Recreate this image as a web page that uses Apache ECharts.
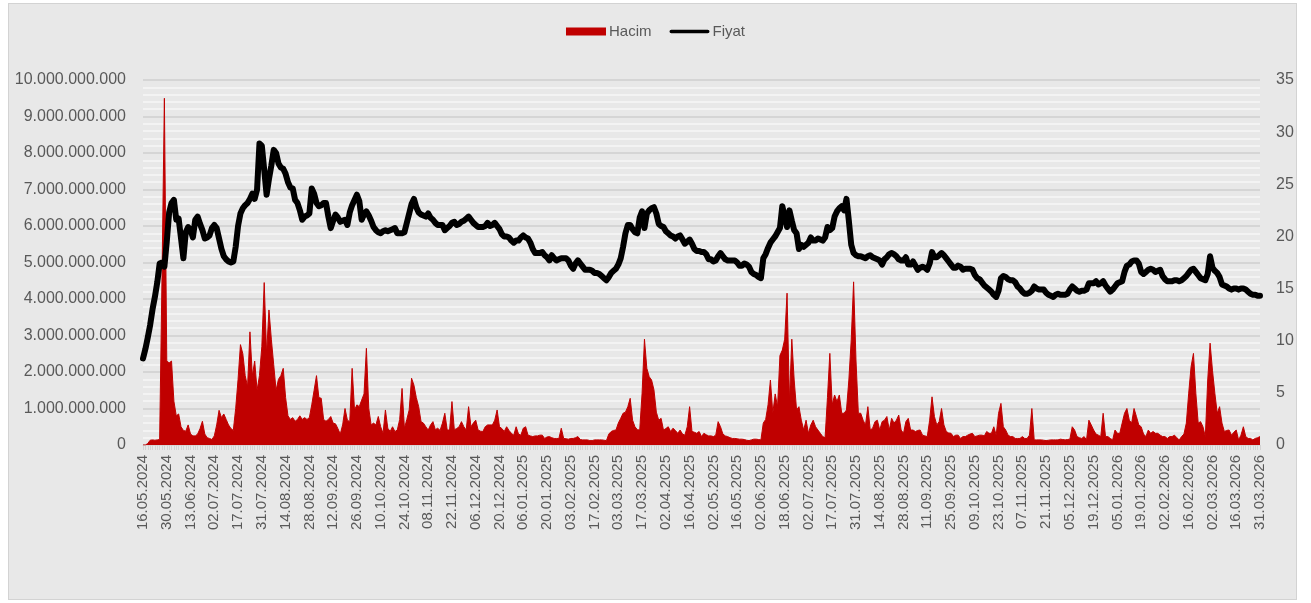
<!DOCTYPE html>
<html lang="tr">

<head>
    <meta charset="UTF-8">
    <meta name="viewport" content="width=device-width, initial-scale=1.0">
    <title>Hacim / Fiyat</title>
    <style>
        html,
        body {
            margin: 0;
            padding: 0;
            background: #ffffff;
        }

        #frame {
            position: absolute;
            left: 8px;
            top: 3px;
            width: 1287px;
            height: 595px;
            background: #e8e8e8;
            border: 1px solid #d3d3d3;
        }

        #show {
            position: absolute;
            left: 0;
            top: 0;
            width: 1311px;
            height: 603px;
        }
    </style>
</head>

<body>
    <div id="frame"></div>
    <div id="show"></div>

    <script src="https://cdn.jsdelivr.net/npm/echarts@6.0.0/dist/echarts.min.js"></script>
    <script>
        // eksen etiketleri (her 10 islem gununde bir)
        var tarihEtiketleri = [
            '16.05.2024', '30.05.2024', '13.06.2024', '02.07.2024', '17.07.2024', '31.07.2024',
            '14.08.2024', '28.08.2024', '12.09.2024', '26.09.2024', '10.10.2024', '24.10.2024',
            '08.11.2024', '22.11.2024', '06.12.2024', '20.12.2024', '06.01.2025', '20.01.2025',
            '03.02.2025', '17.02.2025', '03.03.2025', '17.03.2025', '02.04.2025', '16.04.2025',
            '02.05.2025', '16.05.2025', '02.06.2025', '18.06.2025', '02.07.2025', '17.07.2025',
            '31.07.2025', '14.08.2025', '28.08.2025', '11.09.2025', '25.09.2025', '09.10.2025',
            '23.10.2025', '07.11.2025', '21.11.2025', '05.12.2025', '19.12.2025', '05.01.2026',
            '19.01.2026', '02.02.2026', '16.02.2026', '02.03.2026', '16.03.2026', '31.03.2026'
        ];

        // islem hacmi, milyon TL
        var hacimMilyon = [
            0, 0, 40, 130, 140, 130, 140, 150, 4600, 9500,
            2300, 2250, 2300, 1200, 800, 850, 500, 400, 380, 550,
            300, 250, 250, 300, 450, 650, 300, 200, 180, 150,
            250, 550, 950, 750, 850, 700, 550, 450, 400, 1000,
            1800, 2750, 2500, 1900, 1600, 3100, 1900, 2300, 1500, 1900,
            2700, 4450, 2500, 3700, 2900, 2200, 1500, 1800, 1900, 2100,
            1300, 800, 700, 750, 650, 700, 800, 700, 750, 700,
            750, 1100, 1500, 1900, 1300, 1280, 700, 650, 700, 780,
            600, 580, 450, 300, 550, 1000, 680, 640, 2100, 960,
            1100, 1050, 1230, 1400, 2650, 1000, 550, 600, 550, 780,
            500, 320, 960, 460, 370, 500, 370, 410, 700, 1550,
            460, 700, 960, 1830, 1640, 1300, 1050, 640, 600, 500,
            410, 550, 640, 420, 460, 400, 600, 870, 410, 410,
            1190, 420, 450, 500, 640, 500, 410, 1050, 500, 600,
            680, 410, 380, 370, 500, 550, 550, 550, 680, 960,
            500, 450, 370, 500, 400, 320, 270, 500, 300, 270,
            460, 500, 270, 250, 230, 250, 250, 270, 270, 180,
            220, 230, 200, 180, 180, 180, 460, 180, 170, 160,
            180, 180, 200, 230, 150, 140, 140, 140, 120, 120,
            140, 140, 140, 140, 130, 120, 300, 370, 400, 410,
            600, 730, 870, 900, 1050, 1280, 680, 500, 420, 410,
            1420, 2900, 2100, 1870, 1780, 1510, 900, 680, 730, 410,
            450, 500, 370, 460, 400, 320, 410, 300, 270, 500,
            1050, 370, 350, 320, 370, 230, 320, 280, 250, 250,
            230, 270, 640, 500, 300, 250, 230, 200, 180, 180,
            170, 160, 160, 150, 130, 120, 140, 160, 160, 150,
            140, 600, 700, 1100, 1780, 870, 1400, 1050, 2450, 2600,
            2900, 4160, 1200, 2900, 1780, 960, 1050, 680, 410, 680,
            320, 550, 680, 500, 410, 320, 230, 200, 1300, 2510,
            1100, 1370, 1190, 1370, 870, 870, 960, 1780, 2880, 4470,
            2330, 870, 870, 680, 550, 1050, 410, 460, 640, 680,
            410, 640, 680, 780, 410, 730, 600, 680, 820, 410,
            320, 640, 730, 410, 410, 370, 400, 410, 270, 250,
            230, 680, 1320, 780, 550, 640, 1000, 550, 370, 330,
            320, 230, 270, 270, 180, 230, 230, 270, 300, 320,
            230, 250, 270, 270, 250, 370, 320, 320, 500, 270,
            870, 1140, 500, 410, 270, 230, 230, 180, 180, 180,
            230, 180, 180, 270, 1000, 140, 140, 140, 140, 130,
            120, 130, 140, 140, 140, 140, 160, 150, 140, 150,
            160, 500, 410, 230, 200, 180, 230, 140, 680, 550,
            410, 300, 270, 230, 870, 230, 230, 180, 140, 410,
            320, 320, 600, 870, 1000, 680, 600, 1000, 780, 550,
            500, 300, 230, 410, 320, 370, 320, 320, 270, 230,
            230, 180, 230, 230, 270, 200, 140, 230, 300, 600,
            1420, 2150, 2510, 1420, 600, 640, 500, 230, 1780, 2790,
            2050, 1420, 870, 1050, 600, 370, 400, 410, 270, 350,
            410, 140, 270, 500, 230, 180, 180, 140, 180, 200,
            230
        ];

        // kapanis fiyati, TL
        var fiyat = [
            8.3, 9.2, 10.3, 11.5, 13.0, 14.2, 15.6, 17.4, 17.5, 17.1,
            19.5, 22.3, 23.2, 23.5, 21.6, 21.7, 19.8, 17.9, 20.4, 20.9,
            20.6, 19.9, 21.6, 21.9, 21.2, 20.6, 19.8, 19.9, 20.1, 20.8,
            21.1, 20.8, 19.8, 18.8, 18.1, 17.8, 17.6, 17.5, 17.6, 19.0,
            21.0, 22.2, 22.7, 23.0, 23.2, 23.6, 24.1, 23.6, 24.5, 28.9,
            28.7, 26.4, 24.0, 25.5, 26.8, 28.3, 28.0, 27.0, 26.6, 26.5,
            26.0, 25.2, 24.7, 24.6, 23.5, 23.2, 22.5, 21.6, 21.9, 22.0,
            22.2, 24.6, 24.1, 23.2, 22.9, 23.0, 23.2, 23.2, 21.9, 20.8,
            21.5, 22.1, 21.8, 21.4, 21.5, 21.6, 21.1, 22.3, 23.0, 23.5,
            24.0, 23.4, 21.6, 22.1, 22.4, 22.0, 21.5, 20.9, 20.6, 20.4,
            20.3, 20.5, 20.6, 20.5, 20.6, 20.7, 20.8, 20.3, 20.3, 20.3,
            20.4, 21.3, 22.2, 23.1, 23.6, 22.8, 22.3, 22.1, 22.0, 21.9,
            22.2, 21.8, 21.6, 21.3, 21.1, 21.1, 21.1, 20.6, 20.8, 21.0,
            21.3, 21.4, 21.1, 21.2, 21.4, 21.5, 21.7, 21.9, 21.6, 21.3,
            21.1, 20.9, 20.9, 20.9, 21.0, 21.3, 21.0, 21.1, 21.3, 21.0,
            20.7, 20.2, 20.0, 20.0, 19.9, 19.6, 19.4, 19.6, 19.6, 19.9,
            20.1, 19.9, 19.8, 19.4, 18.8, 18.4, 18.4, 18.4, 18.5, 18.2,
            18.0, 17.7, 18.2, 17.9, 17.7, 17.8, 17.9, 17.9, 17.9, 17.7,
            17.2, 16.9, 17.4, 17.7, 17.4, 17.1, 16.8, 16.8, 16.8, 16.7,
            16.5, 16.5, 16.4, 16.2, 16.0, 15.8, 16.1, 16.5, 16.7, 16.9,
            17.3, 17.9, 19.0, 20.3, 21.1, 21.1, 20.7, 20.4, 20.3, 21.8,
            22.4, 20.8, 22.2, 22.5, 22.7, 22.8, 22.2, 21.2, 21.0, 20.9,
            20.5, 20.3, 20.1, 20.0, 19.8, 20.0, 20.1, 19.7, 19.3, 19.5,
            19.7, 19.3, 18.8, 18.6, 18.6, 18.5, 18.5, 18.3, 17.8, 17.8,
            17.6, 17.7, 18.1, 18.4, 18.1, 17.8, 17.7, 17.7, 17.7, 17.7,
            17.5, 17.2, 17.2, 17.4, 17.3, 17.1, 16.6, 16.4, 16.3, 16.1,
            16.0, 17.9, 18.3, 18.9, 19.4, 19.7, 20.0, 20.4, 20.8, 22.9,
            21.9, 20.9, 22.5, 21.5, 20.6, 20.3, 18.8, 19.2, 19.0, 19.2,
            19.4, 19.9, 19.6, 19.6, 19.8, 19.7, 19.6, 19.9, 20.9, 20.6,
            20.8, 21.9, 22.4, 22.7, 22.9, 22.5, 23.6, 21.5, 19.2, 18.4,
            18.2, 18.1, 18.1, 18.0, 17.9, 18.1, 18.2, 18.0, 17.9, 17.8,
            17.7, 17.3, 17.8, 18.0, 18.3, 18.4, 18.3, 18.1, 17.8, 17.7,
            17.7, 18.0, 17.3, 17.3, 17.6, 17.2, 16.8, 17.0, 17.1, 17.0,
            16.8, 17.4, 18.5, 18.0, 18.0, 18.2, 18.4, 18.2, 17.9, 17.6,
            17.3, 17.0, 17.0, 17.2, 17.1, 16.8, 16.9, 16.9, 16.9, 16.8,
            16.3, 16.0, 15.9, 15.6, 15.3, 15.1, 14.9, 14.7, 14.4, 14.2,
            14.8, 16.0, 16.2, 16.1, 15.9, 15.8, 15.8, 15.6, 15.2, 15.0,
            14.7, 14.5, 14.5, 14.6, 14.8, 15.2, 15.0, 14.9, 14.9, 14.9,
            14.6, 14.4, 14.3, 14.2, 14.4, 14.5, 14.4, 14.4, 14.4, 14.5,
            14.9, 15.2, 15.0, 14.8, 14.7, 14.8, 14.8, 14.9, 15.5, 15.5,
            15.5, 15.7, 15.4, 15.5, 15.7, 15.3, 15.0, 14.7, 14.9, 15.2,
            15.5, 15.6, 15.7, 16.6, 17.2, 17.3, 17.6, 17.7, 17.7, 17.4,
            16.6, 16.4, 16.6, 16.8, 16.9, 16.8, 16.6, 16.7, 16.8, 16.2,
            15.9, 15.7, 15.7, 15.7, 15.8, 15.8, 15.7, 15.8, 16.0, 16.2,
            16.5, 16.8, 16.9, 16.6, 16.3, 16.0, 15.9, 15.8, 16.4, 18.1,
            17.0, 16.7, 16.5, 16.1, 15.4, 15.3, 15.2, 15.0, 14.9, 15.0,
            15.0, 14.9, 15.0, 15.0, 14.9, 14.7, 14.5, 14.4, 14.4, 14.3,
            14.3
        ];

        var gunler = fiyat.map(function (v, i) { return String(i); });
        var hacim = hacimMilyon.map(function (v) { return v * 1e6; });

        function noktali(v) {
            return String(Math.round(v)).replace(/\B(?=(\d{3})+(?!\d))/g, '.');
        }

        var myChart = echarts.init(document.querySelector('#show'));

        myChart.setOption({
            animation: false,
            textStyle: {
                fontFamily: 'Liberation Sans, Arial, sans-serif'
            },
            legend: {
                top: 19,
                left: 'center',
                itemWidth: 40,
                itemHeight: 8,
                itemGap: 18,
                textStyle: { color: '#595959', fontSize: 15, padding: [0, 0, 0, -2] },
                data: [
                    { name: 'Hacim', icon: 'rect', itemStyle: { color: '#c00000', borderWidth: 0 } },
                    { name: 'Fiyat', icon: 'path://M2,0H42A2,2,0,0,1,42,4H2A2,2,0,0,1,2,0Z' }
                ]
            },
            grid: { left: 143, right: 51, top: 80, bottom: 158 },
            xAxis: {
                type: 'category',
                boundaryGap: false,
                data: gunler,
                axisLine: { lineStyle: { color: '#d9d9d9' } },
                axisTick: {
                    show: true,
                    interval: 0,
                    length: 5,
                    lineStyle: { color: '#d3d3d3' }
                },
                axisLabel: {
                    interval: function (i) { return i % 10 === 0; },
                    formatter: function (v, i) { return tarihEtiketleri[i / 10]; },
                    rotate: 90,
                    margin: 10,
                    fontSize: 15,
                    color: '#595959'
                },
                splitLine: { show: false }
            },
            yAxis: [
                {
                    type: 'value',
                    min: 0,
                    max: 10000000000,
                    interval: 1000000000,
                    axisLine: { show: false },
                    axisTick: { show: false },
                    axisLabel: {
                        formatter: noktali,
                        fontSize: 16,
                        margin: 17,
                        color: '#595959'
                    },
                    splitLine: { lineStyle: { color: '#d5d5d5', width: 2 } },
                    minorTick: { show: false, splitNumber: 5 },
                    minorSplitLine: { show: true, lineStyle: { color: '#f3f3f3', width: 2 } }
                },
                {
                    type: 'value',
                    position: 'right',
                    min: 0,
                    max: 35,
                    interval: 5,
                    axisLine: { show: false },
                    axisTick: { show: false },
                    axisLabel: { fontSize: 16, margin: 16, color: '#595959' },
                    splitLine: { show: false }
                }
            ],
            series: [
                {
                    name: 'Hacim',
                    type: 'line',
                    yAxisIndex: 0,
                    data: hacim,
                    showSymbol: false,
                    itemStyle: { color: '#c00000' },
                    lineStyle: { color: '#c00000', width: 1 },
                    areaStyle: { color: '#c00000', opacity: 1 }
                },
                {
                    name: 'Fiyat',
                    type: 'line',
                    yAxisIndex: 1,
                    data: fiyat,
                    showSymbol: false,
                    itemStyle: { color: '#000000' },
                    lineStyle: { color: '#000000', width: 6, cap: 'round', join: 'round' },
                    z: 5
                }
            ]
        });
    </script>
</body>

</html>
